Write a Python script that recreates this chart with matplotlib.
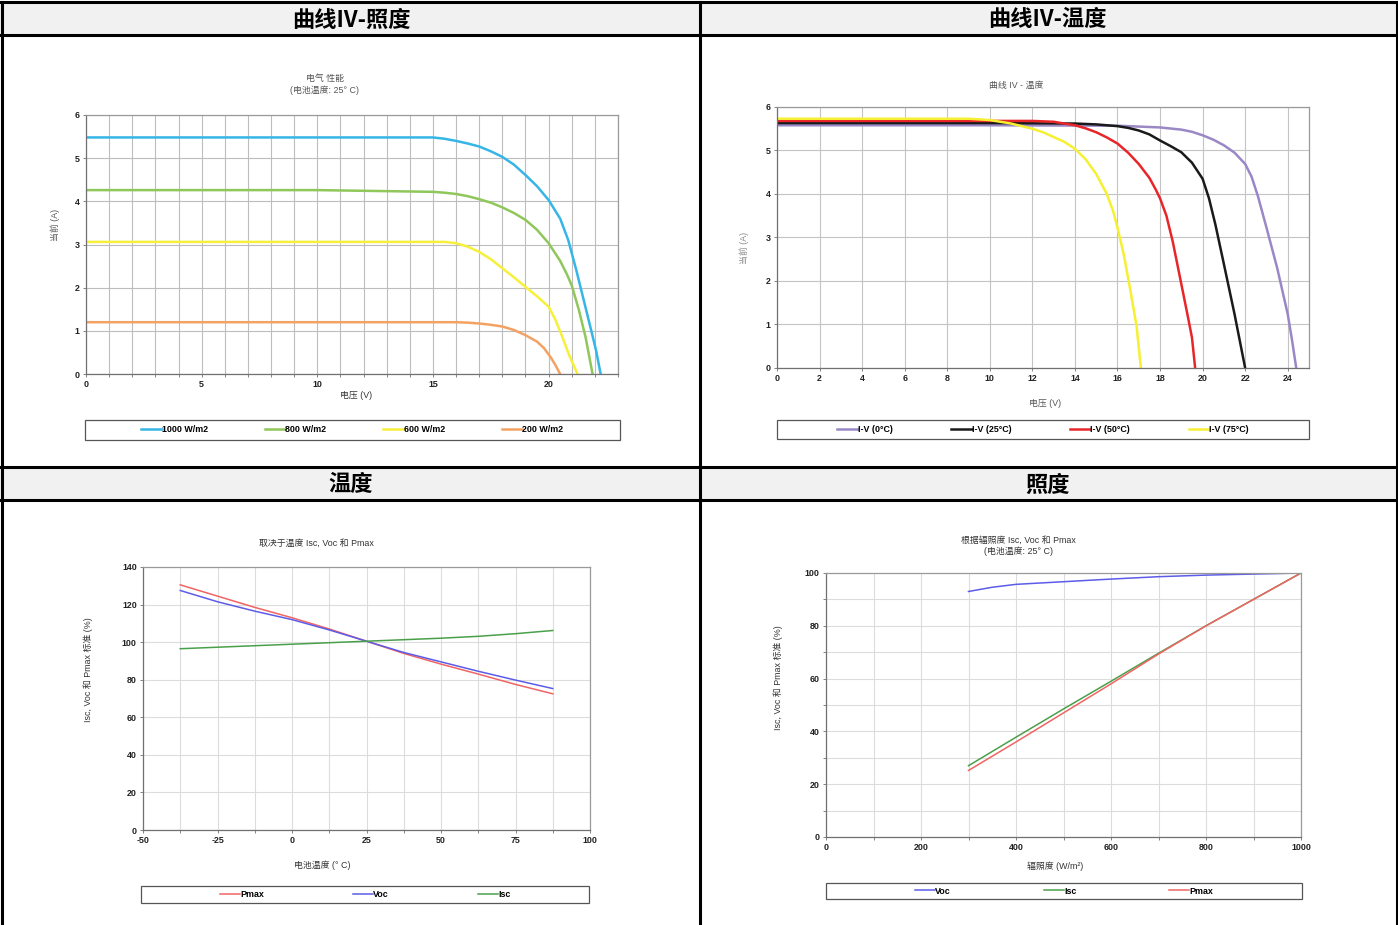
import numpy as np
import matplotlib
matplotlib.use("Agg")
from matplotlib import pyplot as plt
from matplotlib.lines import Line2D
from matplotlib.patches import Rectangle
from matplotlib.ticker import MultipleLocator

plt.rcParams['font.family'] = ['Liberation Sans', 'Noto Sans CJK SC', 'DejaVu Sans']
plt.rcParams['axes.unicode_minus'] = False

W, H = 1398, 925

# ---- data: IV curves vs irradiance (V, I) ----
irr_labels = ["1000 W/m2", "800 W/m2", "600 W/m2", "200 W/m2"]
irr_colors = ["#35b6e6", "#8fc75a", "#f6f03a", "#f4a263"]
v_1000 = [0, 5, 10, 15, 15.5, 16, 16.5, 17, 17.5, 18, 18.5, 19, 19.5, 20, 20.5, 20.85,
          21.2, 21.5, 21.8, 22.05, 22.25]
i_1000 = [5.48, 5.48, 5.48, 5.48, 5.45, 5.40, 5.34, 5.27, 5.16, 5.03, 4.85, 4.61, 4.35,
          4.03, 3.60, 3.10, 2.40, 1.75, 1.10, 0.55, 0.0]
v_800 = [0, 5, 10, 15, 15.5, 16, 16.5, 17, 17.5, 18, 18.5, 19, 19.5, 20, 20.5, 20.8,
         21, 21.3, 21.6, 21.9]
i_800 = [4.26, 4.26, 4.26, 4.22, 4.20, 4.17, 4.12, 4.05, 3.97, 3.86, 3.73, 3.57, 3.34,
         3.03, 2.62, 2.30, 2.05, 1.50, 0.85, 0.0]
v_600 = [0, 5, 10, 15, 15.5, 16, 16.5, 17, 17.5, 18, 18.5, 19, 19.5, 20, 20.3, 20.6,
         20.9, 21.25]
i_600 = [3.06, 3.06, 3.06, 3.06, 3.06, 3.03, 2.95, 2.83, 2.66, 2.45, 2.24, 2.02, 1.80,
         1.56, 1.25, 0.85, 0.42, 0.0]
v_200 = [0, 5, 10, 15, 16, 16.5, 17, 17.5, 18, 18.5, 19, 19.5, 19.8, 20.1, 20.3, 20.5]
i_200 = [1.20, 1.20, 1.20, 1.20, 1.20, 1.19, 1.17, 1.14, 1.10, 1.02, 0.90, 0.75, 0.60,
         0.38, 0.20, 0.0]

# ---- data: IV curves vs temperature ----
temp_labels = ["I-V (0°C)", "I-V (25°C)", "I-V (50°C)", "I-V (75°C)"]
temp_colors = ["#9a88c6", "#1a1a1a", "#e8262a", "#f6f032"]
v_t0 = [0, 10, 16, 17, 18, 19, 19.5, 20, 20.5, 21, 21.5, 22, 22.3, 22.6, 23, 23.5,
        24, 24.2, 24.4]
i_t0 = [5.58, 5.58, 5.57, 5.55, 5.53, 5.48, 5.43, 5.35, 5.25, 5.12, 4.95, 4.69, 4.40,
        3.95, 3.23, 2.31, 1.24, 0.65, 0.0]
v_t25 = [0, 10, 14, 15, 16, 16.5, 17, 17.5, 18, 18.5, 19, 19.5, 20, 20.3, 20.6, 21,
         21.5, 22]
i_t25 = [5.63, 5.63, 5.62, 5.60, 5.56, 5.52, 5.46, 5.37, 5.23, 5.10, 4.96, 4.72, 4.35,
         3.90, 3.30, 2.39, 1.24, 0.0]
v_t50 = [0, 10, 12, 13, 14, 14.5, 15, 15.5, 16, 16.5, 17, 17.5, 17.8, 18, 18.3, 18.6,
         19, 19.3, 19.5, 19.65]
i_t50 = [5.68, 5.68, 5.68, 5.66, 5.58, 5.51, 5.42, 5.30, 5.16, 4.95, 4.69, 4.37, 4.10,
         3.90, 3.50, 2.90, 1.93, 1.20, 0.70, 0.0]
v_t75 = [0, 9, 10, 11, 12, 12.5, 13, 13.5, 14, 14.5, 15, 15.5, 15.8, 16, 16.3, 16.6,
         16.9, 17.1]
i_t75 = [5.73, 5.73, 5.70, 5.62, 5.50, 5.42, 5.31, 5.20, 5.04, 4.80, 4.46, 4.00, 3.60,
         3.23, 2.60, 1.80, 0.95, 0.0]

# ---- data: Isc, Voc, Pmax vs temperature (%) ----
cell_temp = [-37.5, -25, -12.5, 0, 12.5, 25, 37.5, 50, 62.5, 75, 87.5]
pmax_t = [130.5, 124.5, 118.5, 113, 107, 100.5, 94, 88.3, 83, 77.5, 72.5]
voc_t = [127.5, 121.5, 116.5, 112, 106.5, 100.5, 94.5, 89.5, 84.5, 79.8, 75.3]
isc_t = [96.5, 97.3, 98.1, 98.9, 99.7, 100.5, 101.3, 102.1, 103.1, 104.5, 106.2]

# ---- data: Isc, Voc, Pmax vs irradiance (%) ----
irradiance = [300, 350, 400, 500, 600, 700, 800, 900, 1000]
voc_g = [93.0, 94.6, 95.7, 96.7, 97.7, 98.6, 99.2, 99.6, 100]
isc_g = [27.0, 32.4, 37.8, 48.5, 59.0, 69.6, 80.0, 90.0, 100]
pmax_g = [25.2, 30.6, 36.0, 47.0, 58.0, 69.3, 80.0, 90.0, 100]

small = 6.4
lab_col = "#555555"


def px_axes(x0, y0, x1, y1):
    return fig.add_axes([x0 / W, 1 - y1 / H, (x1 - x0) / W, (y1 - y0) / H])


def ftext(x, y, s, **kw):
    kw.setdefault("fontsize", small)
    kw.setdefault("ha", "center")
    kw.setdefault("va", "center")
    fig.text(x / W, 1 - y / H, s, **kw)


def style(ax):
    for sp in ax.spines.values():
        sp.set_color("#9a9a9a")
        sp.set_linewidth(0.9)
    ax.spines["left"].set_color("#707070")
    ax.spines["bottom"].set_color("#707070")
    ax.tick_params(which="both", labelsize=small, length=2.5, width=0.6,
                   color="#707070", pad=2)
    for t in ax.get_xticklabels() + ax.get_yticklabels():
        t.set_fontweight("bold")
        t.set_color("#222222")
    ax.set_axisbelow(True)


def legend_box(x0, y0, x1, y1, handles, labels, spacing):
    fig.patches.append(Rectangle((x0 / W, 1 - y1 / H), (x1 - x0) / W, (y1 - y0) / H,
                                 transform=fig.transFigure, fill=False,
                                 edgecolor="#555555", lw=0.9))
    leg = fig.legend(handles, labels, loc="center",
                     bbox_to_anchor=((x0 + x1) / 2 / W, 1 - (y0 + y1) / 2 / H),
                     ncol=len(labels), frameon=False, handlelength=2.3,
                     handletextpad=0.0, columnspacing=spacing,
                     prop={"size": small, "weight": "bold"})
    return leg


fig = plt.figure(figsize=(W / 100, H / 100), dpi=100)

# ---- table frame ----
gray_bg = "#f1f1f1"
fig.patches.append(Rectangle((0, 1 - 35 / H), 1, 33 / H, transform=fig.transFigure,
                             facecolor=gray_bg, edgecolor="none"))
fig.patches.append(Rectangle((0, 1 - 500 / H), 1, 33 / H, transform=fig.transFigure,
                             facecolor=gray_bg, edgecolor="none"))
for yy in [2, 35, 467, 500]:
    fig.add_artist(Line2D([0, 1], [1 - yy / H] * 2, color="black", lw=2.2))
for xx in [1.5, 700, 1396.5]:
    fig.add_artist(Line2D([xx / W] * 2, [1 - 2 / H, 0], color="black", lw=2.2))

hdr = dict(fontsize=16, fontweight="bold", family=["Noto Sans CJK SC", "DejaVu Sans"])
ftext(351, 20, "曲线IV-照度", **hdr)
ftext(1047, 20, "曲线IV-温度", **hdr)
ftext(351, 485, "温度", **hdr)
ftext(1047, 485, "照度", **hdr)

# ---- chart 1: IV vs irradiance ----
ax1 = px_axes(86, 115, 618, 374)
curves1 = [(v_1000, i_1000), (v_800, i_800), (v_600, i_600), (v_200, i_200)]
h1 = []
for (v, i), c, lab in zip(curves1, irr_colors, irr_labels):
    ln, = ax1.plot(v, i, color=c, lw=1.8, label=lab, solid_joinstyle="round")
    h1.append(ln)
ax1.set_xlim(0, 23)
ax1.set_ylim(0, 6)
ax1.xaxis.set_major_locator(MultipleLocator(5))
ax1.xaxis.set_minor_locator(MultipleLocator(1))
ax1.yaxis.set_major_locator(MultipleLocator(1))
ax1.grid(which="both", color="#bdbdbd", lw=0.8)
style(ax1)
ftext(325, 79, "电气 性能", color=lab_col)
ftext(325, 90, "(电池温度: 25° C)", color=lab_col)
ftext(55, 225, "当前 (A)", rotation=90, color=lab_col)
ftext(356, 395, "电压 (V)", color="#333333")
legend_box(85, 420, 620, 440, h1, irr_labels, 6.4)

# ---- chart 2: IV vs temperature ----
ax2 = px_axes(777, 107, 1309, 368)
curves2 = [(v_t0, i_t0), (v_t25, i_t25), (v_t50, i_t50), (v_t75, i_t75)]
h2 = []
for (v, i), c, lab in zip(curves2, temp_colors, temp_labels):
    ln, = ax2.plot(v, i, color=c, lw=1.8, label=lab, solid_joinstyle="round")
    h2.append(ln)
ax2.set_xlim(0, 25)
ax2.set_ylim(0, 6)
ax2.xaxis.set_major_locator(MultipleLocator(2))
ax2.yaxis.set_major_locator(MultipleLocator(1))
ax2.grid(which="major", color="#c4c4c4", lw=0.8)
style(ax2)
ftext(1016, 85, "曲线 IV - 温度", color=lab_col)
ftext(744, 248, "当前 (A)", rotation=90, color="#888888")
ftext(1045, 403, "电压 (V)", color=lab_col)
legend_box(777, 420, 1309, 439, h2, temp_labels, 6.6)

# ---- chart 3: vs temperature ----
ax3 = px_axes(143, 567, 590, 830)
h3 = []
for y, c, lab in [(pmax_t, "#f06464", "Pmax"), (voc_t, "#5c5ce8", "Voc"),
                  (isc_t, "#4aa04a", "Isc")]:
    ln, = ax3.plot(cell_temp, y, color=c, lw=1.1, label=lab)
    h3.append(ln)
ax3.set_xlim(-50, 100)
ax3.set_ylim(0, 140)
ax3.xaxis.set_major_locator(MultipleLocator(25))
ax3.xaxis.set_minor_locator(MultipleLocator(12.5))
ax3.yaxis.set_major_locator(MultipleLocator(20))
ax3.grid(which="both", color="#dcdcdc", lw=0.8)
ax3.tick_params(which="minor", length=0)
style(ax3)
ftext(316, 543, "取决于温度 Isc, Voc 和 Pmax", color="#333333")
ftext(88, 670, "Isc, Voc 和 Pmax 标准 (%)", rotation=90, color="#333333")
ftext(322, 865, "电池温度 (° C)", color="#333333")
legend_box(141, 886, 589, 903, h3, ["Pmax", "Voc", "Isc"], 10.0)

# ---- chart 4: vs irradiance ----
ax4 = px_axes(826, 573, 1301, 837)
h4 = []
for y, c, lab in [(voc_g, "#5c5ce8", "Voc"), (isc_g, "#4aa04a", "Isc"),
                  (pmax_g, "#f06464", "Pmax")]:
    ln, = ax4.plot(irradiance, y, color=c, lw=1.1, label=lab)
    h4.append(ln)
ax4.set_xlim(0, 1000)
ax4.set_ylim(0, 100)
ax4.xaxis.set_major_locator(MultipleLocator(200))
ax4.xaxis.set_minor_locator(MultipleLocator(100))
ax4.yaxis.set_major_locator(MultipleLocator(20))
ax4.yaxis.set_minor_locator(MultipleLocator(10))
ax4.grid(which="both", color="#dcdcdc", lw=0.8)
ax4.tick_params(which="minor", length=0)
style(ax4)
ftext(1018, 540, "根据辐照度 Isc, Voc 和 Pmax", color="#333333")
ftext(1018, 551, "(电池温度: 25° C)", color="#333333")
ftext(778, 678, "Isc, Voc 和 Pmax 标准 (%)", rotation=90, color="#333333")
ftext(1055, 866, "辐照度 (W/m²)", color="#333333")
legend_box(826, 883, 1302, 899, h4, ["Voc", "Isc", "Pmax"], 10.4)

fig.savefig("out.png", dpi=100)
